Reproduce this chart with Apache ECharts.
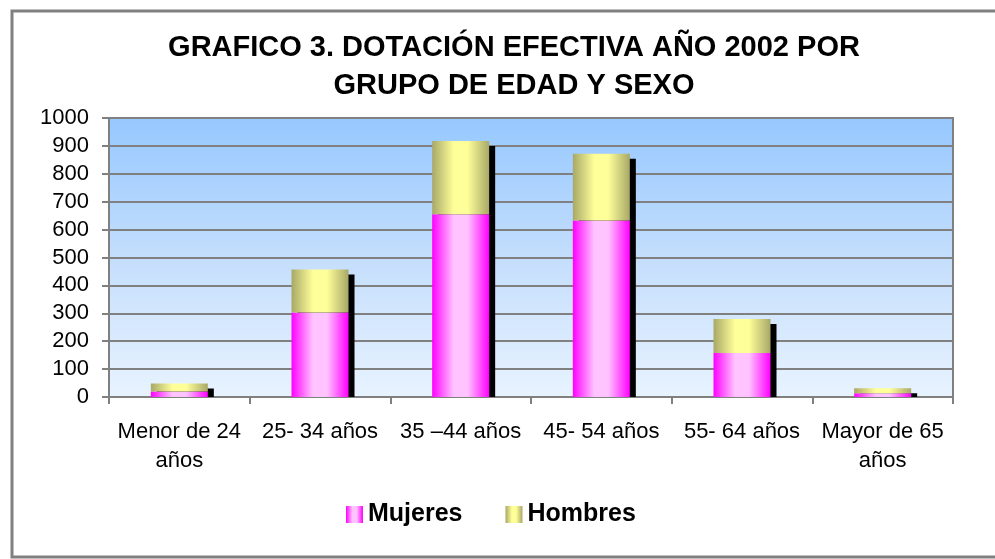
<!DOCTYPE html>
<html>
<head>
<meta charset="utf-8">
<script src="https://cdn.jsdelivr.net/npm/echarts@6/dist/echarts.min.js"></script>
<style>
  html, body { margin: 0; padding: 0; background: #fff; }
  #chart { width: 995px; height: 559px; }
</style>
</head>
<body>
<div id="chart"></div>
<script>
// datos del grafico
const categorias = ['Menor de 24\naños', '25- 34 años', '35 –44 años', '45- 54 años', '55- 64 años', 'Mayor de 65\naños'];
const mujeres = [20, 303, 655, 633, 158, 13];
const hombres = [28, 154, 263, 239, 122, 18];
const ticksY = [0, 100, 200, 300, 400, 500, 600, 700, 800, 900, 1000];

const totales = mujeres.map((v, i) => v + hombres[i]);

const fuente = '"Liberation Sans", Arial, sans-serif';
const gris = '#808080';

function degradado(borde, centro) {
    return new echarts.graphic.LinearGradient(0, 0, 1, 0, [
        { offset: 0, color: borde },
        { offset: 0.38, color: centro },
        { offset: 0.62, color: centro },
        { offset: 1, color: borde }
    ]);
}

let chart = echarts.init(document.getElementById('chart'));
let option = {
    backgroundColor: '#fff',
    animation: false,
    title: {
        text: 'GRAFICO 3. DOTACIÓN EFECTIVA AÑO 2002 POR\nGRUPO DE EDAD Y SEXO',
        left: 509,
        top: 24,
        textAlign: 'center',
        textStyle: {
            fontFamily: fuente,
            fontSize: 29,
            fontWeight: 'bold',
            color: '#000',
            lineHeight: 38
        }
    },
    graphic: [
        // marco exterior
        {
            type: 'rect',
            shape: { x: 12, y: 11, width: 1000, height: 546 },
            style: { fill: null, stroke: gris, lineWidth: 3 },
            silent: true
        }
    ],
    legend: {
        data: ['Mujeres', 'Hombres'],
        left: 341,
        top: 497,
        icon: 'rect',
        itemWidth: 17,
        itemHeight: 17,
        itemGap: 43,
        textStyle: {
            fontFamily: fuente,
            fontSize: 25,
            fontWeight: 'bold',
            color: '#000',
            padding: [0, 0, 0, 0]
        }
    },
    grid: {
        left: 109,
        right: 42,
        top: 118,
        bottom: 162,
        show: true,
        borderColor: gris,
        borderWidth: 2,
        backgroundColor: new echarts.graphic.LinearGradient(0, 0, 0, 1, [
            { offset: 0, color: '#96C8FF' },
            { offset: 0.55, color: '#C8E0FC' },
            { offset: 1, color: '#E8F3FF' }
        ])
    },
    xAxis: {
        type: 'category',
        data: categorias,
        axisLine: { lineStyle: { color: gris, width: 2 } },
        axisTick: { show: true, length: 7, lineStyle: { color: gris, width: 2 } },
        axisLabel: {
            interval: 0,
            margin: 20,
            fontFamily: fuente,
            fontSize: 22,
            lineHeight: 29,
            color: '#000'
        }
    },
    yAxis: {
        type: 'value',
        min: ticksY[0],
        max: ticksY[ticksY.length - 1],
        interval: 100,
        axisLine: { show: true, lineStyle: { color: gris, width: 2 } },
        axisTick: { show: true, length: 7, lineStyle: { color: gris, width: 2 } },
        splitLine: { lineStyle: { color: gris, width: 2 } },
        axisLabel: {
            margin: 20,
            fontFamily: fuente,
            fontSize: 22,
            color: '#000',
            formatter: v => String(v)
        }
    },
    series: [
        {
            // sombra negra detras de cada columna
            name: 'sombra',
            type: 'custom',
            z: 1,
            data: totales.map((v, i) => [i, v]),
            renderItem: function (params, api) {
                let arriba = api.coord([api.value(0), api.value(1)]);
                let base = api.coord([api.value(0), 0]);
                return {
                    type: 'rect',
                    shape: {
                        x: arriba[0] - 28.5 + 6,
                        y: arriba[1] + 5,
                        width: 57,
                        height: base[1] - arriba[1] - 5
                    },
                    style: { fill: '#000' }
                };
            }
        },
        {
            name: 'Mujeres',
            type: 'bar',
            stack: 'total',
            z: 2,
            barWidth: 57,
            itemStyle: { color: degradado('#FF00FF', '#FFC4FF') },
            data: mujeres
        },
        {
            name: 'Hombres',
            type: 'bar',
            stack: 'total',
            z: 2,
            barWidth: 57,
            itemStyle: { color: degradado('#A8A868', '#FFFF99') },
            data: hombres
        }
    ]
};
chart.setOption(option);
</script>
</body>
</html>
